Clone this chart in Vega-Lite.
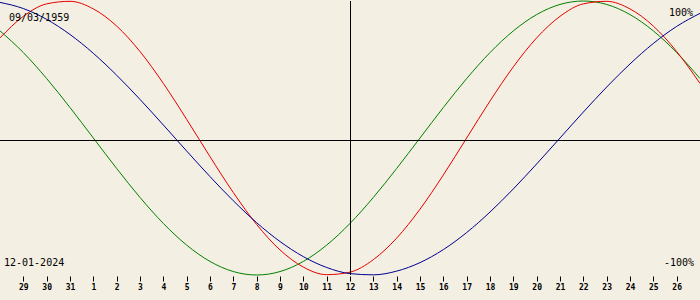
{
  "$schema": "https://vega.github.io/schema/vega-lite/v6.json",
  "width": 700,
  "height": 274,
  "autosize": "none",
  "padding": {"left": 0, "top": 1, "right": 0, "bottom": 25},
  "background": "#f3efe2",
  "config": {"view": {"stroke": null}},
  "layer": [
    {
      "data": {"values": [
        {"d": -1, "physical": 0.7308, "emotional": 0.7818, "intellectual": 0.9898},
        {"d": 0, "physical": 0.8879, "emotional": 0.6235, "intellectual": 0.9450},
        {"d": 1, "physical": 0.9791, "emotional": 0.4339, "intellectual": 0.8660},
        {"d": 2, "physical": 0.9977, "emotional": 0.2225, "intellectual": 0.7557},
        {"d": 3, "physical": 0.9423, "emotional": 0.0, "intellectual": 0.6182},
        {"d": 4, "physical": 0.8170, "emotional": -0.2225, "intellectual": 0.4582},
        {"d": 5, "physical": 0.6313, "emotional": -0.4339, "intellectual": 0.2817},
        {"d": 6, "physical": 0.3984, "emotional": -0.6235, "intellectual": 0.0951},
        {"d": 7, "physical": 0.1362, "emotional": -0.7818, "intellectual": -0.0951},
        {"d": 8, "physical": -0.1362, "emotional": -0.9010, "intellectual": -0.2817},
        {"d": 9, "physical": -0.3984, "emotional": -0.9749, "intellectual": -0.4582},
        {"d": 10, "physical": -0.6313, "emotional": -1.0, "intellectual": -0.6182},
        {"d": 11, "physical": -0.8170, "emotional": -0.9749, "intellectual": -0.7557},
        {"d": 12, "physical": -0.9423, "emotional": -0.9010, "intellectual": -0.8660},
        {"d": 13, "physical": -0.9977, "emotional": -0.7818, "intellectual": -0.9450},
        {"d": 14, "physical": -0.9791, "emotional": -0.6235, "intellectual": -0.9898},
        {"d": 15, "physical": -0.8879, "emotional": -0.4339, "intellectual": -0.9989},
        {"d": 16, "physical": -0.7308, "emotional": -0.2225, "intellectual": -0.9718},
        {"d": 17, "physical": -0.5196, "emotional": 0.0, "intellectual": -0.9096},
        {"d": 18, "physical": -0.2698, "emotional": 0.2225, "intellectual": -0.8146},
        {"d": 19, "physical": 0.0, "emotional": 0.4339, "intellectual": -0.6901},
        {"d": 20, "physical": 0.2698, "emotional": 0.6235, "intellectual": -0.5406},
        {"d": 21, "physical": 0.5196, "emotional": 0.7818, "intellectual": -0.3717},
        {"d": 22, "physical": 0.7308, "emotional": 0.9010, "intellectual": -0.1893},
        {"d": 23, "physical": 0.8879, "emotional": 0.9749, "intellectual": 0.0},
        {"d": 24, "physical": 0.9791, "emotional": 1.0, "intellectual": 0.1893},
        {"d": 25, "physical": 0.9977, "emotional": 0.9749, "intellectual": 0.3717},
        {"d": 26, "physical": 0.9423, "emotional": 0.9010, "intellectual": 0.5406},
        {"d": 27, "physical": 0.8170, "emotional": 0.7818, "intellectual": 0.6901},
        {"d": 28, "physical": 0.6313, "emotional": 0.6235, "intellectual": 0.8146},
        {"d": 29, "physical": 0.3984, "emotional": 0.4339, "intellectual": 0.9096}
      ]},
      "transform": [{"fold": ["emotional", "physical", "intellectual"], "as": ["cycle", "v"]}],
      "mark": {"type": "line", "strokeWidth": 1, "interpolate": "monotone"},
      "encoding": {
        "x": {
          "field": "d", "type": "quantitative",
          "scale": {"domain": [-1, 29], "nice": false, "zero": false},
          "axis": {
            "values": [0,1,2,3,4,5,6,7,8,9,10,11,12,13,14,15,16,17,18,19,20,21,22,23,24,25,26,27,28],
            "tickCount": 60,
            "labelExpr": "datum.value < 3 ? datum.value + 29 : datum.value - 2",
            "domain": false, "grid": false, "title": null,
            "tickColor": "#000000", "tickSize": 5, "offset": 1, "tickWidth": 1,
            "labelFont": "DejaVu Sans Mono", "labelFontSize": 8, "labelFontWeight": "bold",
            "labelColor": "#000000", "labelPadding": 2, "labelOverlap": false
          }
        },
        "y": {
          "field": "v", "type": "quantitative",
          "scale": {"domain": [-1, 1], "nice": false, "zero": false},
          "axis": null
        },
        "color": {
          "field": "cycle", "type": "nominal",
          "scale": {"domain": ["physical", "emotional", "intellectual"], "range": ["#e60000", "#008000", "#000090"]},
          "legend": null
        },
        "order": {"field": "d", "type": "quantitative"}
      }
    },
    {
      "data": {"values": [{"ref": "midline"}]},
      "mark": {"type": "rule", "color": "#000000", "strokeWidth": 1, "yOffset": 2.5},
      "encoding": {"y": {"datum": 0, "type": "quantitative"}}
    },
    {
      "data": {"values": [{"ref": "today"}]},
      "mark": {"type": "rule", "color": "#000000", "strokeWidth": 1, "xOffset": 0.5},
      "encoding": {"x": {"datum": 14, "type": "quantitative"}}
    },
    {
      "data": {"values": [{"label": "09/03/1959"}]},
      "mark": {"type": "text", "align": "left", "baseline": "alphabetic", "dx": 9, "dy": 20, "font": "DejaVu Sans Mono", "fontSize": 10, "color": "#000000"},
      "encoding": {"x": {"datum": -1, "type": "quantitative"}, "y": {"datum": 1, "type": "quantitative"}, "text": {"field": "label"}}
    },
    {
      "data": {"values": [{"label": "100%"}]},
      "mark": {"type": "text", "align": "right", "baseline": "alphabetic", "dx": -7, "dy": 15, "font": "DejaVu Sans Mono", "fontSize": 10, "color": "#000000"},
      "encoding": {"x": {"datum": 29, "type": "quantitative"}, "y": {"datum": 1, "type": "quantitative"}, "text": {"field": "label"}}
    },
    {
      "data": {"values": [{"label": "12-01-2024"}]},
      "mark": {"type": "text", "align": "left", "baseline": "alphabetic", "dx": 4, "dy": -9, "font": "DejaVu Sans Mono", "fontSize": 10, "color": "#000000"},
      "encoding": {"x": {"datum": -1, "type": "quantitative"}, "y": {"datum": -1, "type": "quantitative"}, "text": {"field": "label"}}
    },
    {
      "data": {"values": [{"label": "-100%"}]},
      "mark": {"type": "text", "align": "right", "baseline": "alphabetic", "dx": -6, "dy": -9, "font": "DejaVu Sans Mono", "fontSize": 10, "color": "#000000"},
      "encoding": {"x": {"datum": 29, "type": "quantitative"}, "y": {"datum": -1, "type": "quantitative"}, "text": {"field": "label"}}
    }
  ]
}
